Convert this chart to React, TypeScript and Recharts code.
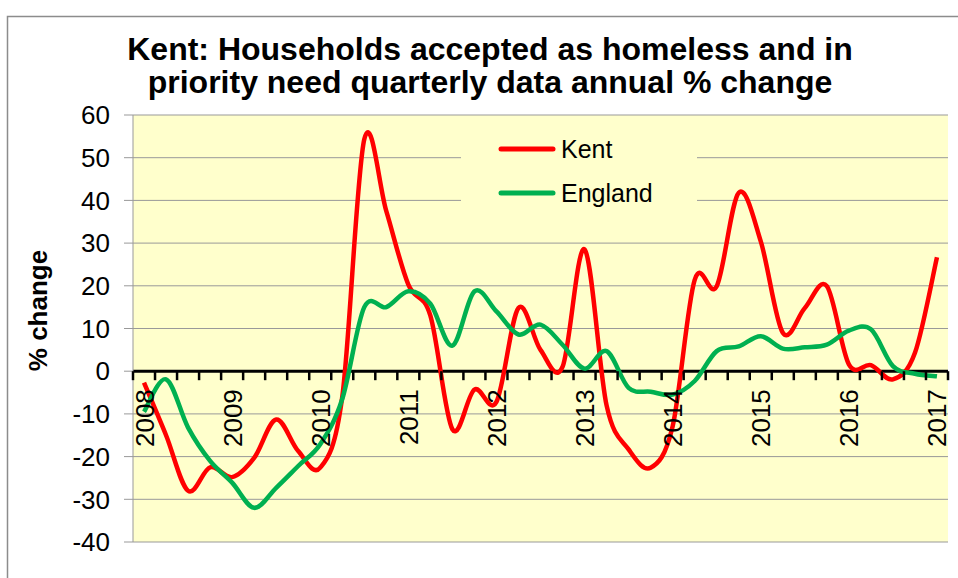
import React from 'react';
import { LineChart, Line, XAxis, YAxis, CartesianGrid, ReferenceLine, Legend } from 'recharts';

const quarters = [
  '2008 Q1', '2008 Q2', '2008 Q3', '2008 Q4',
  '2009 Q1', '2009 Q2', '2009 Q3', '2009 Q4',
  '2010 Q1', '2010 Q2', '2010 Q3', '2010 Q4',
  '2011 Q1', '2011 Q2', '2011 Q3', '2011 Q4',
  '2012 Q1', '2012 Q2', '2012 Q3', '2012 Q4',
  '2013 Q1', '2013 Q2', '2013 Q3', '2013 Q4',
  '2014 Q1', '2014 Q2', '2014 Q3', '2014 Q4',
  '2015 Q1', '2015 Q2', '2015 Q3', '2015 Q4',
  '2016 Q1', '2016 Q2', '2016 Q3', '2016 Q4',
  '2017 Q1',
];

const kent = [
  -2.7, -15, -28, -22.5, -24.8, -20.3, -11.3, -18.7, -22.6, -6,
  54.3, 37.5, 20.3, 13, -13.6, -4.3, -7.2, 14.8, 5, 1,
  28.5, -8, -18.3, -22.6, -12.9, 21.4, 19.9, 41.8, 30.4, 9,
  14.8, 19.9, 1.6, 1.4, -1.9, 4.3, 26.7,
];

const england = [
  -9.5, -1.9, -13.2, -21, -26.1, -32, -27.3, -22.2, -17.1, -6.5,
  15, 15, 18.7, 15.8, 6, 18.7, 14, 8.6, 10.9, 6.2,
  0.6, 4.7, -3.9, -4.8, -5.5, -2.3, 4.7, 5.8, 8.2, 5.3,
  5.6, 6.2, 9.5, 9.8, 1.2, -0.6, -1.2,
];

const seriesNames = ['Kent', 'England'];

const yTicks = [-40, -30, -20, -10, 0, 10, 20, 30, 40, 50, 60];

const titleLines = [
  'Kent: Households accepted as homeless and in',
  'priority need quarterly data annual % change',
];

const data = quarters.map((q, i) => ({ q, kent: kent[i], england: england[i] }));

const W = 958;
const H = 578;
const M = { top: 115, right: 10, bottom: 35, left: 0 };
const Y_AXIS_W = 133;
const X_AXIS_H = 1;
const PLOT_W = W - M.left - M.right - Y_AXIS_W;
const PLOT_H = H - M.top - M.bottom - X_AXIS_H;
const Y_MIN = -40;
const Y_MAX = 60;
const ZERO_Y = M.top + (PLOT_H * Y_MAX) / (Y_MAX - Y_MIN);
const BAND = PLOT_W / quarters.length;
const FONT = '"Liberation Sans", Arial, sans-serif';

// Excel-like smoothed line (Catmull-Rom via cubic Bezier)
const excelCurve: any = (context: any) => {
  let pts: [number, number][] = [];
  return {
    areaStart() {},
    areaEnd() {},
    lineStart() {
      pts = [];
    },
    lineEnd() {
      const n = pts.length;
      if (!n) return;
      context.moveTo(pts[0][0], pts[0][1]);
      for (let i = 0; i < n - 1; i++) {
        const p0 = pts[Math.max(i - 1, 0)];
        const p1 = pts[i];
        const p2 = pts[i + 1];
        const p3 = pts[Math.min(i + 2, n - 1)];
        context.bezierCurveTo(
          p1[0] + (p2[0] - p0[0]) / 6,
          p1[1] + (p2[1] - p0[1]) / 6,
          p2[0] - (p3[0] - p1[0]) / 6,
          p2[1] - (p3[1] - p1[1]) / 6,
          p2[0],
          p2[1]
        );
      }
    },
    point(x: number, y: number) {
      pts.push([+x, +y]);
    },
  };
};

const XTick = (props: any) => {
  const { x, payload, index } = props;
  const idx = payload && typeof payload.index === 'number' ? payload.index : index;
  const value: string = payload ? String(payload.value) : '';
  const isYear = value.endsWith('Q1');
  const left = x - BAND / 2;
  const last = idx === quarters.length - 1;
  return (
    <g>
      <line x1={left} x2={left} y1={ZERO_Y} y2={ZERO_Y + 9} stroke="#000" strokeWidth={2.5} />
      {last && (
        <line x1={x + BAND / 2} x2={x + BAND / 2} y1={ZERO_Y} y2={ZERO_Y + 9} stroke="#000" strokeWidth={2.5} />
      )}
      {isYear && (
        <text
          transform={`translate(${x + 9.5},${ZERO_Y + 18}) rotate(-90)`}
          textAnchor="end"
          fontFamily={FONT}
          fontSize={26}
          fill="#000"
        >
          {value.slice(0, 4)}
        </text>
      )}
    </g>
  );
};

const LegendContent = (props: any) => {
  const items = [...(props.payload || [])].sort(
    (a: any, b: any) => seriesNames.indexOf(a.value) - seriesNames.indexOf(b.value)
  );
  return (
    <svg width={236} height={100} style={{ display: 'block' }}>
      {items.map((item: any, i: number) => {
        const cy = 27 + i * 44;
        return (
          <g key={item.value}>
            <line x1={40} x2={92} y1={cy} y2={cy} stroke={item.color} strokeWidth={5} strokeLinecap="round" />
            <text x={100} y={cy + 9} fontFamily={FONT} fontSize={25} fill="#000">
              {item.value}
            </text>
          </g>
        );
      })}
    </svg>
  );
};

export default function App() {
  return (
    <div style={{ position: 'absolute', left: 0, top: 0, width: W, height: H, overflow: 'hidden', background: '#fff' }}>
      <LineChart width={W} height={H} data={data} margin={M}>
        <CartesianGrid vertical={false} stroke="#999" strokeWidth={1} fill="#FFFFCC" fillOpacity={1} />
        <XAxis
          dataKey="q"
          height={X_AXIS_H}
          interval={0}
          padding={{ left: BAND / 2, right: BAND / 2 }}
          axisLine={false}
          tickLine={false}
          tick={<XTick />}
        />
        <YAxis
          domain={[Y_MIN, Y_MAX]}
          ticks={yTicks}
          interval={0}
          width={Y_AXIS_W}
          axisLine={{ stroke: '#999', strokeWidth: 1 }}
          tickLine={{ stroke: '#999', strokeWidth: 1 }}
          tickSize={9}
          tickMargin={14}
          tick={{ fill: '#000', fontSize: 26, fontFamily: FONT }}
        />
        <ReferenceLine y={0} stroke="#000" strokeWidth={3} />
        <Line
          type={excelCurve}
          dataKey="kent"
          name={seriesNames[0]}
          stroke="#FF0000"
          strokeWidth={4.5}
          dot={false}
          activeDot={false}
          isAnimationActive={false}
        />
        <Line
          type={excelCurve}
          dataKey="england"
          name={seriesNames[1]}
          stroke="#00B050"
          strokeWidth={4.5}
          dot={false}
          activeDot={false}
          isAnimationActive={false}
        />
        <Legend
          layout="horizontal"
          verticalAlign="middle"
          align="center"
          content={<LegendContent />}
          wrapperStyle={{ position: 'absolute', left: 461, top: 122, width: 236, height: 100, background: '#FFFFCC' }}
        />
      </LineChart>
      <svg width={W} height={H} style={{ position: 'absolute', left: 0, top: 0, pointerEvents: 'none' }}>
        <rect x={7.5} y={16.5} width={1000} height={1000} fill="none" stroke="#8c8c8c" strokeWidth={1.5} />
        {titleLines.map((t, i) => (
          <text
            key={t}
            x={490}
            y={59.5 + i * 33}
            textAnchor="middle"
            fontFamily={FONT}
            fontWeight="bold"
            fontSize={32}
            fill="#000"
          >
            {t}
          </text>
        ))}
        <text
          transform="translate(47,310.5) rotate(-90)"
          textAnchor="middle"
          fontFamily={FONT}
          fontWeight="bold"
          fontSize={26}
          fill="#000"
        >
          % change
        </text>
      </svg>
    </div>
  );
}
